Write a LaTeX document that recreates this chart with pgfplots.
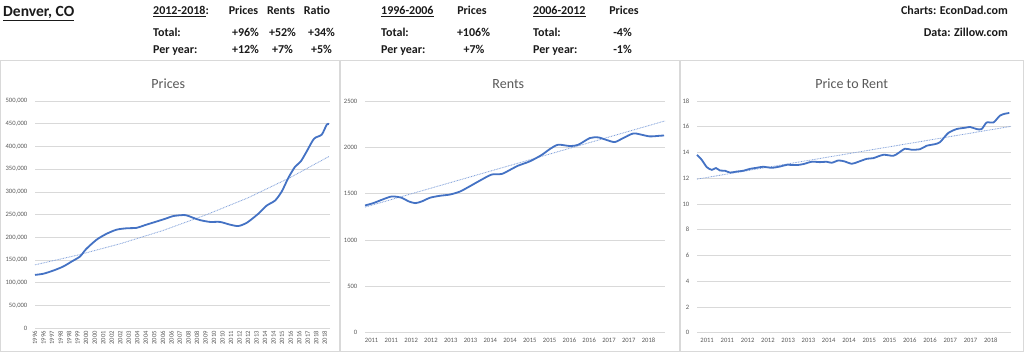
\documentclass[border=0pt]{standalone}
\usepackage{fontspec}
\setmainfont{Carlito}
\usepackage{pgfplots}
\pgfplotsset{compat=1.18}
\definecolor{lineblue}{HTML}{4472C4}
\definecolor{trendblue}{HTML}{7F9FDA}
\definecolor{gridgray}{HTML}{D9D9D9}
\definecolor{txtgray}{HTML}{595959}
\definecolor{hdr}{HTML}{1A1A1A}
\newcommand{\tickfont}{\fontsize{6.6}{7}\selectfont}
\newcommand{\hfont}{\fontsize{12}{14}\selectfont\bfseries}
\pgfplotsset{
  econ/.style={
    scale only axis,
    anchor=south west,
    axis line style={draw=none},
    major tick length=0pt,
    ymajorgrids,
    major grid style={gridgray, line width=0.75pt},
    ymin=0,
    tick label style={font=\tickfont, text=txtgray},
    yticklabel style={anchor=east, inner sep=0pt, xshift=-7.5pt},
    /pgf/number format/assume math mode=true,
    clip=false,
  },
  dataline/.style={lineblue, line width=1.8pt, smooth, tension=0.45, mark=none},
  trendline/.style={trendblue, line width=0.8pt, dash pattern=on 0.8pt off 0.8pt, mark=none},
}
\begin{document}
\begin{tikzpicture}[x=1pt,y=1pt]
\useasboundingbox (0,0) rectangle (1024,352);
\fill[white] (0,0) rectangle (1024,352);
% panel frames
\draw[gridgray, line width=0.8pt] (0.5,0.8) rectangle (339.5,292);
\draw[gridgray, line width=0.8pt] (340.5,0.8) rectangle (679.5,292);
\draw[gridgray, line width=0.8pt] (680.5,0.8) rectangle (1023.5,292);

% ---------- header ----------
\node[anchor=base west, inner sep=0, text=hdr] at (3,335) {\fontsize{15.5}{17}\selectfont\bfseries\underline{Denver, CO}};
\begin{scope}[every node/.style={inner sep=0, text=hdr, font=\hfont}]
\node[anchor=base west] at (153,337) {\underline{2012-2018}:};
\node[anchor=base] at (243.5,337) {Prices};
\node[anchor=base] at (281,337) {Rents};
\node[anchor=base] at (317,337) {Ratio};
\node[anchor=base west] at (153,315.3) {Total:};
\node[anchor=base] at (245.5,315.3) {+96\%};
\node[anchor=base] at (282.5,315.3) {+52\%};
\node[anchor=base] at (321.5,315.3) {+34\%};
\node[anchor=base west] at (153,298) {Per year:};
\node[anchor=base] at (245.5,298) {+12\%};
\node[anchor=base] at (282.5,298) {+7\%};
\node[anchor=base] at (321.5,298) {+5\%};

\node[anchor=base west] at (381,337) {\underline{1996-2006}};
\node[anchor=base] at (472,337) {Prices};
\node[anchor=base west] at (381,315.3) {Total:};
\node[anchor=base] at (473.5,315.3) {+106\%};
\node[anchor=base west] at (381,298) {Per year:};
\node[anchor=base] at (474,298) {+7\%};

\node[anchor=base west] at (533,337) {\underline{2006-2012}};
\node[anchor=base] at (624,337) {Prices};
\node[anchor=base west] at (533,315.3) {Total:};
\node[anchor=base] at (622.5,315.3) {-4\%};
\node[anchor=base west] at (533,298) {Per year:};
\node[anchor=base] at (622.5,298) {-1\%};

\node[anchor=base east] at (1008,337) {Charts: EconDad.com};
\node[anchor=base east] at (1008,315.3) {Data: Zillow.com};
\end{scope}

% ---------- chart titles ----------
\begin{scope}[every node/.style={inner sep=0, text=txtgray, font=\fontsize{14}{16}\selectfont}]
\node[anchor=base] at (168.3,263.5) {Prices};
\node[anchor=base] at (508.3,263.5) {Rents};
\node[anchor=base] at (851.7,263.5) {Price to Rent};
\end{scope}

% ---------- Prices ----------
\begin{axis}[econ,
  at={(35pt,23.7pt)}, width=295pt, height=227.3pt,
  xmin=0, xmax=277, ymax=500000,
  ytick={0,50000,...,500000},
  scaled y ticks=false,
  yticklabel style={/pgf/number format/.cd, fixed, 1000 sep={,}},
  xtick={0,8,...,272},
  xticklabels={1996,1996,1997,1998,1998,1999,2000,2000,2001,2002,2002,2003,2004,2004,2005,2006,2006,2007,2008,2008,2009,2010,2010,2011,2012,2012,2013,2014,2014,2015,2016,2016,2017,2018,2018},
  xticklabel style={yshift=-2.5pt, rotate=90, anchor=east, inner sep=0pt},
]
\addplot[trendline] coordinates {
(0,139600) (40,161000) (80,186000) (120,215000) (160,249000) (200,287000) (240,332000) (276,378000)
};
\addplot[dataline] coordinates {
(0,117500) (7.8,120000) (17.2,127000) (26.6,136000) (34.5,147000) (42.3,158000)
(47.9,174000) (57.9,195000) (67.3,208000) (76.7,217000) (86.1,220000) (95.5,221000)
(103.3,227000) (114.3,235000) (123.7,242000) (129.9,247000) (140.9,249000) (148.6,243000)
(154.9,238000) (164.3,234000) (173.7,234000) (183.1,228000) (190.9,225000) (198.8,232000)
(209.7,252000) (217.6,270000) (225.4,281000) (231.7,301000) (237.9,331000) (244.1,355000)
(249.5,367000) (255.1,389000) (262,417000) (269.2,426000) (273.9,448000) (276,449000)
};
\end{axis}

% ---------- Rents ----------
\begin{axis}[econ,
  at={(365pt,19.3pt)}, width=300pt, height=231.7pt,
  xmin=0, xmax=91, ymax=2500,
  ytick={0,500,...,2500},
  yticklabel style={/pgf/number format/.cd, 1000 sep={}},
  xtick={2,8,...,86},
  xticklabels={2011,2011,2012,2012,2013,2013,2014,2014,2015,2015,2016,2016,2017,2017,2018},
  xticklabel style={anchor=north, inner sep=0pt, yshift=-5.5pt},
]
\addplot[trendline] coordinates {(0,1355) (91,2285)};
\addplot[dataline] coordinates {
(0,1373) (2.5,1398) (5.1,1434) (8.1,1470) (11.1,1456) (13.1,1419) (15.2,1398) (17.2,1416)
(19.7,1456) (22.7,1477) (25.8,1491) (28.8,1523) (31.8,1580) (34.9,1642) (38.4,1706)
(41.5,1713) (44,1757) (46.5,1803) (50,1849) (53.6,1918) (56.1,1982) (58.6,2028)
(62.2,2014) (64.7,2028) (68.2,2100) (70.8,2107) (73.3,2079) (75.8,2057) (78.3,2100)
(81.4,2150) (83.9,2136) (86.4,2118) (89.5,2125) (90.7,2128)
};
\end{axis}

% ---------- Price to Rent ----------
\begin{axis}[econ,
  at={(697pt,19.3pt)}, width=314pt, height=231.7pt,
  xmin=0, xmax=93, ymax=18,
  ytick={0,2,...,18},
  xtick={3,9,...,87},
  xticklabels={2011,2011,2012,2012,2013,2013,2014,2014,2015,2015,2016,2016,2017,2017,2018},
  xticklabel style={anchor=north, inner sep=0pt, yshift=-5.5pt},
]
\addplot[trendline] coordinates {(0,11.93) (93,16.03)};
\addplot[dataline] coordinates {
(0,13.82) (1.4,13.43) (2.9,12.86) (4.4,12.65) (5.6,12.79) (6.8,12.6) (8.3,12.58) (9.8,12.44)
(11.8,12.52) (13.7,12.58) (15.7,12.73) (17.7,12.81) (19.6,12.89) (22.1,12.81) (24.6,12.91)
(26.6,13.04) (29.5,13.02) (31.5,13.1) (34,13.28) (36.4,13.25) (38.4,13.28) (39.9,13.2)
(41.9,13.38) (43.8,13.3) (45.8,13.12) (47.8,13.28) (50.3,13.51) (52.2,13.56) (55.2,13.82)
(58.1,13.74) (59.6,13.95) (61.6,14.29) (63.6,14.21) (66.1,14.26) (68,14.52) (70.5,14.65)
(72,14.81) (74.4,15.51) (76.9,15.82) (79.4,15.92) (80.9,15.98) (82.8,15.82) (84.3,15.82)
(85.8,16.33) (87.8,16.33) (89.7,16.86) (91.2,17.01) (92.5,17.07)
};
\end{axis}
\end{tikzpicture}
\end{document}
